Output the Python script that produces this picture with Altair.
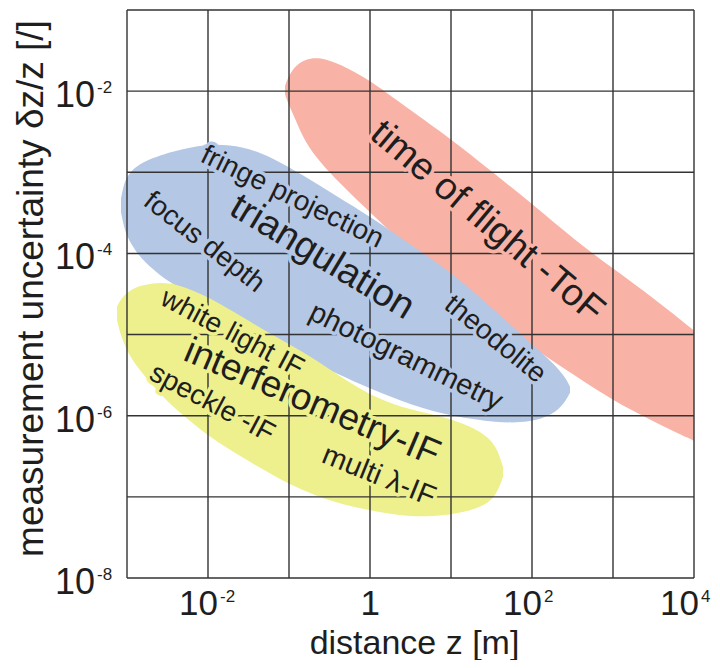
import altair as alt
import pandas as pd

FONT = "Liberation Sans, Arial, sans-serif"
RED = "#f8b3a6"
BLUE = "#b4c7e4"
YELLOW = "#eef08e"
GRID = "#333333"
TXT = "#1e1e1e"

# ---- grid decades (log10) ----
x_decades = [-3, -2, -1, 0, 1, 2, 3, 4]
y_decades = [-8, -7, -6, -5, -4, -3, -2, -1]

# ---- tick labels ----
x_tick_exp = [-2, 0, 2]
x_tick_base = ["10", "1", "10"]
x_tick_sup = ["-2", "", "2"]
x_last_exp = [4]
x_last_base = ["10"]
x_last_sup = ["4"]
y_tick_exp = [-8, -6, -4, -2]
y_tick_base = ["10", "10", "10", "10"]
y_tick_sup = ["-8", "-6", "-4", "-2"]

# ---- regions: outline (log10 of distance / uncertainty) ----
tof_x = [-1.049, -1.012, -0.926, -0.802, -0.617, -0.370, 0.0, 0.407, 1.025, 1.481, 2.025, 2.531, 3.0, 3.506, 4.0]
tof_top = [-1.938, -1.827, -1.691, -1.605, -1.580, -1.667, -1.864, -2.173, -2.605, -2.975, -3.407, -3.840, -4.185, -4.556, -4.951]
tof_bot = [-2.037, -2.148, -2.333, -2.630, -2.877, -3.136, -3.494, -3.877, -4.432, -4.802, -5.173, -5.506, -5.815, -6.074, -6.309]

tri_x = [-3.074, -3.037, -2.988, -2.901, -2.778, -2.593, -2.383, -1.975, -1.568, -1.235, -0.827, -0.407, 0.0, 0.531, 1.025, 1.568, 1.975, 2.259, 2.407, 2.469]
tri_top = [-3.321, -3.136, -3.037, -2.938, -2.864, -2.790, -2.728, -2.642, -2.679, -2.802, -3.037, -3.296, -3.543, -3.914, -4.247, -4.728, -5.099, -5.346, -5.519, -5.642]
tri_bot = [-3.494, -3.679, -3.815, -3.963, -4.111, -4.272, -4.407, -4.642, -4.889, -5.074, -5.284, -5.481, -5.667, -5.877, -6.012, -6.086, -6.086, -5.988, -5.840, -5.716]

if_x = [-3.123, -3.086, -3.037, -2.963, -2.840, -2.630, -2.383, -1.975, -1.568, -1.148, -0.741, -0.333, 0.086, 0.494, 0.901, 1.235, 1.481, 1.580, 1.642]
if_top = [-4.654, -4.580, -4.519, -4.457, -4.395, -4.358, -4.370, -4.543, -4.790, -5.037, -5.259, -5.543, -5.790, -5.926, -6.012, -6.123, -6.272, -6.432, -6.630]
if_bot = [-4.827, -4.975, -5.111, -5.272, -5.444, -5.691, -5.938, -6.272, -6.519, -6.765, -6.963, -7.099, -7.185, -7.247, -7.235, -7.173, -7.074, -6.926, -6.753]

# ---- labels inside the chart ----
lab_text = ["time of flight -ToF", "triangulation", "fringe projection", "focus depth",
            "photogrammetry", "theodolite", "white light IF", "interferometry-IF",
            "speckle -IF", "multi λ-IF"]
lab_x = [1.444, -0.593, -0.963, -2.049, 0.444, 1.543, -1.704, -0.716, -1.951, 0.111]
lab_y = [-3.617, -4.049, -3.309, -3.864, -5.272, -5.062, -4.988, -5.840, -5.852, -6.741]
lab_angle = [40, 31, 26, 38, 26, 39, 28, 23, 28, 22]
lab_size = [38, 38, 28, 28, 29, 28, 28, 37, 28, 29]
lab_halo = [RED, BLUE, BLUE, BLUE, BLUE, BLUE, YELLOW, YELLOW, YELLOW, YELLOW]

W, H = 567, 568

def p10(v):
    return [10.0 ** a for a in v]

xs = alt.Scale(type="log", domain=[1e-3, 1e4], nice=False)
ys = alt.Scale(type="log", domain=[1e-8, 1e-1], nice=False)

XAX = alt.Axis(title="distance z [m]", labels=False, ticks=False, domain=False, grid=False,
               titleX=287, titleY=75, titleBaseline="alphabetic", titleAnchor="middle",
               titleFontSize=34)
YAX = alt.Axis(title="measurement uncertainty  δz/z [/]", labels=False, ticks=False, domain=False,
               grid=False, titleX=-96, titleY=278, titleBaseline="middle", titleAngle=-90,
               titleAnchor="middle", titleFontSize=37)

def X(f):
    return alt.X(f, scale=xs, axis=XAX)

def Y(f):
    return alt.Y(f, scale=ys, axis=YAX)

def region(xv, top, bot, color):
    df = pd.DataFrame({"x": p10(xv), "top": p10(top), "bot": p10(bot)})
    return alt.Chart(df).mark_area(color=color, interpolate="basis", opacity=1).encode(
        x=X("x:Q"), y=Y("top:Q"), y2="bot:Q",
    )

red = region(tof_x, tof_top, tof_bot, RED)
blue = region(tri_x, tri_top, tri_bot, BLUE)
yellow = region(if_x, if_top, if_bot, YELLOW)

vx = alt.Chart(pd.DataFrame({"v": p10(x_decades)})).mark_rule(color=GRID, strokeWidth=1.4).encode(
    x=X("v:Q"))
hy = alt.Chart(pd.DataFrame({"v": p10(y_decades)})).mark_rule(color=GRID, strokeWidth=1.4).encode(
    y=Y("v:Q"))

lab_df = pd.DataFrame({"t": lab_text, "x": p10(lab_x), "y": p10(lab_y), "a": lab_angle,
                       "s": lab_size, "h": lab_halo})
halo = alt.Chart(lab_df).mark_text(font=FONT, align="center", baseline="middle",
                                   strokeWidth=7, strokeJoin="round").encode(
    x=X("x:Q"), y=Y("y:Q"),
    text="t:N",
    angle=alt.Angle("a:Q", scale=None),
    size=alt.Size("s:Q", scale=None),
    fill=alt.Fill("h:N", scale=None),
    stroke=alt.Stroke("h:N", scale=None),
)
labels = alt.Chart(lab_df).mark_text(font=FONT, align="center", baseline="middle", color=TXT).encode(
    x=X("x:Q"), y=Y("y:Q"),
    text="t:N",
    angle=alt.Angle("a:Q", scale=None),
    size=alt.Size("s:Q", scale=None),
)

xt = pd.DataFrame({"v": p10(x_tick_exp), "b": x_tick_base, "e": x_tick_sup})
xl = pd.DataFrame({"v": p10(x_last_exp), "b": x_last_base, "e": x_last_sup})
yt = pd.DataFrame({"v": p10(y_tick_exp), "b": y_tick_base, "e": y_tick_sup})

def xbase(df, dx):
    return alt.Chart(df).mark_text(font=FONT, fontSize=35, align="right", baseline="alphabetic",
                                   dx=dx, color=TXT).encode(x=X("v:Q"), y=alt.value(H + 37), text="b:N")

def xsup(df, dx):
    return alt.Chart(df).mark_text(font=FONT, fontSize=17, align="left", baseline="alphabetic",
                                   dx=dx, color=TXT).encode(x=X("v:Q"), y=alt.value(H + 24), text="e:N")

y_base = alt.Chart(yt).mark_text(font=FONT, fontSize=36, align="right", baseline="alphabetic",
                                 dy=16, color=TXT).encode(y=Y("v:Q"), x=alt.value(-32), text="b:N")
y_sup = alt.Chart(yt).mark_text(font=FONT, fontSize=17, align="left", baseline="alphabetic",
                                dy=2, color=TXT).encode(y=Y("v:Q"), x=alt.value(-30), text="e:N")

chart = alt.layer(red, blue, yellow, vx, hy, halo, labels,
                  xbase(xt, 10), xsup(xt, 12), xbase(xl, 5), xsup(xl, 7),
                  y_base, y_sup).properties(
    width=W, height=H,
    autosize=alt.AutoSizeParams(type="none"),
    padding={"left": 119, "top": 2, "right": 18, "bottom": 82},
    background="white",
).configure_view(stroke=None).configure_axis(
    titleFont=FONT, titleFontWeight="normal", titleColor=TXT,
)

chart.save("out.html", embed_options={"renderer": "svg", "actions": False})
